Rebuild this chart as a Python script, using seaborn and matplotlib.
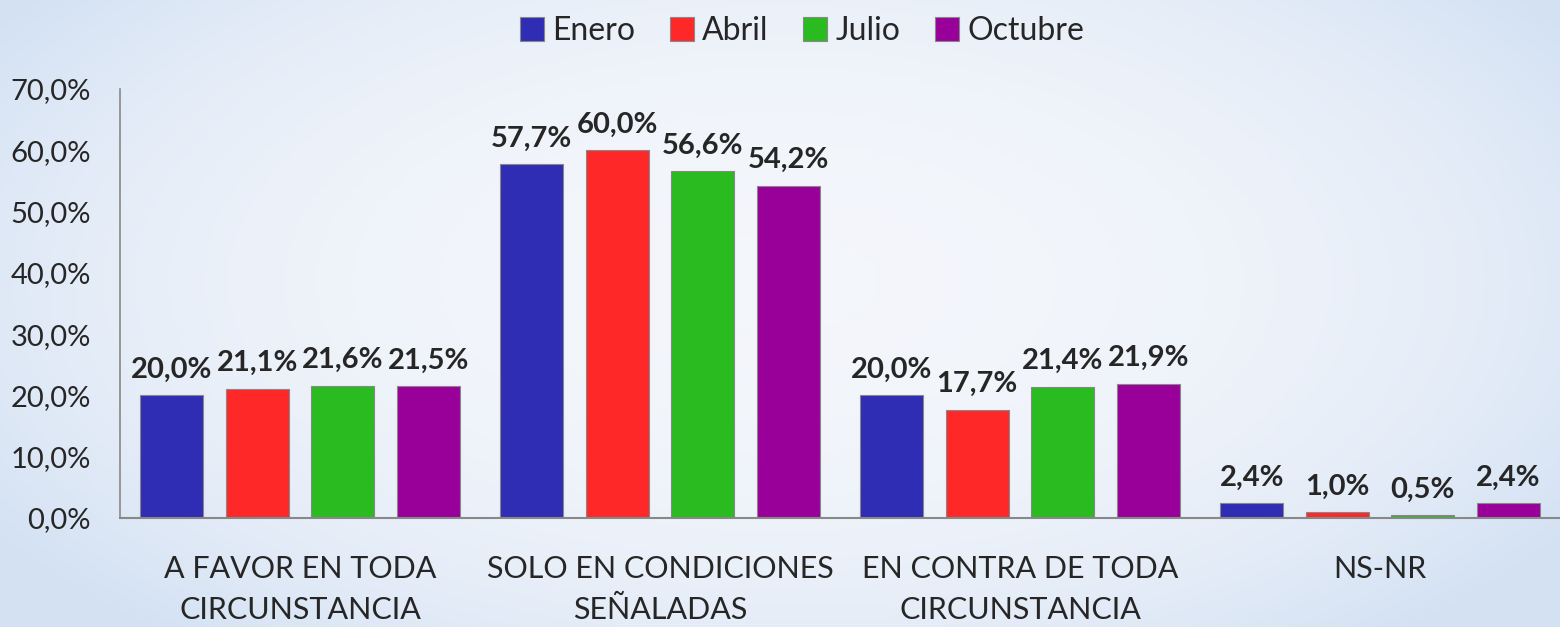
import numpy as np
import pandas as pd
import matplotlib
matplotlib.use("Agg")
import matplotlib.pyplot as plt
import seaborn as sns

# data
categorias = ["A FAVOR EN TODA\nCIRCUNSTANCIA", "SOLO EN CONDICIONES\nSEÑALADAS",
              "EN CONTRA DE TODA\nCIRCUNSTANCIA", "NS-NR"]
meses = ["Enero", "Abril", "Julio", "Octubre"]
enero = [20.0, 57.7, 20.0, 2.4]
abril = [21.1, 60.0, 17.7, 1.0]
julio = [21.6, 56.6, 21.4, 0.5]
octubre = [21.5, 54.2, 21.9, 2.4]
yticks = [0, 10, 20, 30, 40, 50, 60, 70]
ytick_labels = ["0,0%", "10,0%", "20,0%", "30,0%", "40,0%", "50,0%", "60,0%", "70,0%"]

colores = ["#2E2DB3", "#FF2828", "#29BB20", "#990099"]

rows = []
for mes, vals in zip(meses, [enero, abril, julio, octubre]):
    for cat, v in zip(categorias, vals):
        rows.append({"categoria": cat, "mes": mes, "valor": v})
df = pd.DataFrame(rows)

sns.set_style("white")
plt.rcParams["font.family"] = ["Lato", "DejaVu Sans"]

fig = plt.figure(figsize=(15.6, 6.27), dpi=100)

# background gradient (light centre, bluish edges)
bg = fig.add_axes([0, 0, 1, 1], zorder=-1)
gx, gy = np.meshgrid(np.linspace(0, 1, 400), np.linspace(0, 1, 200))
r = np.sqrt(((gx - 0.5) / 0.6) ** 2 + ((gy - 0.55) / 0.75) ** 2)
r = np.clip(r, 0, 1) ** 2.5
c0 = np.array([0.955, 0.965, 0.985])
c1 = np.array([0.83, 0.885, 0.955])
img = c0[None, None, :] * (1 - r[..., None]) + c1[None, None, :] * r[..., None]
bg.imshow(img, aspect="auto", extent=[0, 1, 0, 1], origin="lower")
bg.axis("off")

ax = fig.add_axes([120 / 1560, 1 - 518 / 627, 1 - 120 / 1560, (518 - 89) / 627])
ax.patch.set_alpha(0)

sns.barplot(data=df, x="categoria", y="valor", hue="mes", palette=colores,
            width=0.95, gap=0.26, edgecolor="#888888", linewidth=0.8,
            saturation=1, ax=ax, legend=True)

for cont in ax.containers:
    labels = [f"{b.get_height():.1f}%".replace(".", ",") for b in cont]
    ax.bar_label(cont, labels=labels, padding=9, fontsize=21, fontweight="bold")

ax.set_ylim(0, 70)
ax.set_xlim(-0.5, 3.5)
ax.set_yticks(yticks)
ax.set_yticklabels(ytick_labels, fontsize=21)
ax.tick_params(axis="y", length=0, pad=21)
ax.tick_params(axis="x", length=0, pad=27, labelsize=22)
ax.set_xlabel("")
ax.set_ylabel("")
for s in ["top", "right"]:
    ax.spines[s].set_visible(False)
ax.spines["left"].set_color("#888888")
ax.spines["bottom"].set_color("#888888")
ax.spines["left"].set_linewidth(1.2)
ax.spines["bottom"].set_linewidth(1.5)
for lab in ax.get_xticklabels():
    lab.set_linespacing(1.55)
    lab.set_verticalalignment("top")

leg = ax.legend(loc="upper center", bbox_to_anchor=(802 / 1560, 1.02), bbox_transform=fig.transFigure,
                ncol=4, frameon=False, fontsize=23, handlelength=0.75, handleheight=0.8,
                handletextpad=0.25, columnspacing=1.1)

fig.savefig("out.png", dpi=100)
